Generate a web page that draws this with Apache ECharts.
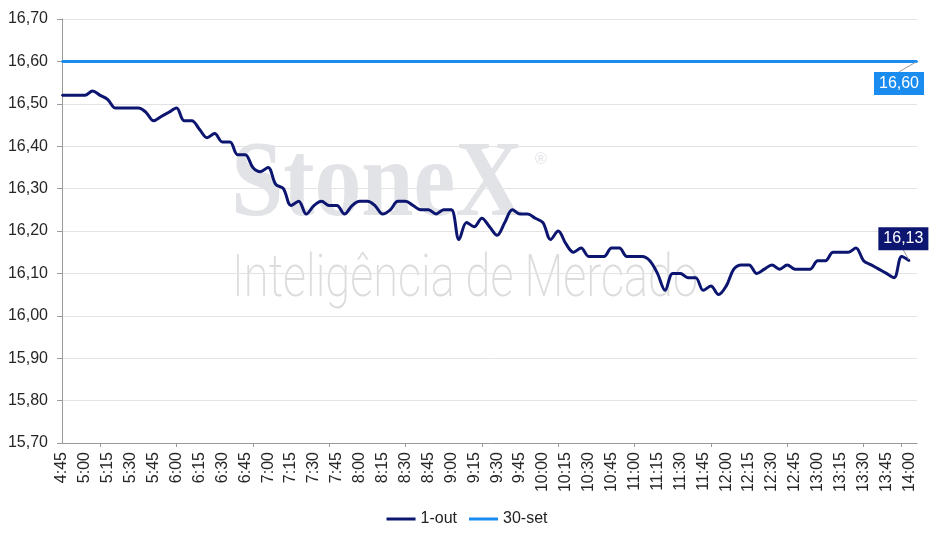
<!DOCTYPE html>
<html>
<head>
<meta charset="utf-8">
<script src="https://cdn.jsdelivr.net/npm/echarts@6/dist/echarts.min.js"></script>
<style>
html,body{margin:0;padding:0;background:#fff;}
#c{width:934px;height:539px;}
</style>
</head>
<body>
<div id="c"></div>
<script>
// ---- DATA ----
const times = [
 '4:45','4:50','4:55',
 '5:00','5:05','5:10','5:15','5:20','5:25','5:30','5:35','5:40','5:45','5:50','5:55',
 '6:00','6:05','6:10','6:15','6:20','6:25','6:30','6:35','6:40','6:45','6:50','6:55',
 '7:00','7:05','7:10','7:15','7:20','7:25','7:30','7:35','7:40','7:45','7:50','7:55',
 '8:00','8:05','8:10','8:15','8:20','8:25','8:30','8:35','8:40','8:45','8:50','8:55',
 '9:00','9:05','9:10','9:15','9:20','9:25','9:30','9:35','9:40','9:45','9:50','9:55',
 '10:00','10:05','10:10','10:15','10:20','10:25','10:30','10:35','10:40','10:45','10:50','10:55',
 '11:00','11:05','11:10','11:15','11:20','11:25','11:30','11:35','11:40','11:45','11:50','11:55',
 '12:00','12:05','12:10','12:15','12:20','12:25','12:30','12:35','12:40','12:45','12:50','12:55',
 '13:00','13:05','13:10','13:15','13:20','13:25','13:30','13:35','13:40','13:45','13:50','13:55',
 '14:00','14:05'
];
const out1 = [
 16.52,16.52,16.52,16.52,16.53,16.52,16.51,16.49,16.49,16.49,
 16.49,16.48,16.46,16.47,16.48,16.49,16.46,16.46,16.44,16.42,
 16.43,16.41,16.41,16.38,16.38,16.35,16.34,16.35,16.31,16.30,
 16.26,16.27,16.24,16.26,16.27,16.26,16.26,16.24,16.26,16.27,
 16.27,16.26,16.24,16.25,16.27,16.27,16.26,16.25,16.25,16.24,
 16.25,16.25,16.18,16.22,16.21,16.23,16.21,16.19,16.22,16.25,
 16.24,16.24,16.23,16.22,16.18,16.20,16.17,16.15,16.16,16.14,
 16.14,16.14,16.16,16.16,16.14,16.14,16.14,16.13,16.10,16.06,
 16.10,16.10,16.09,16.09,16.06,16.07,16.05,16.07,16.11,16.12,
 16.12,16.10,16.11,16.12,16.11,16.12,16.11,16.11,16.11,16.13,
 16.13,16.15,16.15,16.15,16.16,16.13,16.12,16.11,16.10,16.09,
 16.14,16.13
];
const set30Value = 16.60;
const seriesNames = ['1-out', '30-set'];
const yTicks = {min: 15.70, max: 16.70, step: 0.10};

// ---- STYLE ----
const NAVY = '#0c1670';
const BLUE = '#1a8cf0';
const FONT = '"Liberation Sans", Arial, sans-serif';
const fmt = v => Number(v).toFixed(2).replace('.', ',');

function measure(text, font) {
  const cv = document.createElement('canvas');
  const ctx = cv.getContext('2d');
  ctx.font = font;
  return ctx.measureText(text).width;
}
const wm1Font = 'bold 109px "Liberation Serif", serif';
const wm2Font = '200 60px Roboto, "Liberation Sans", sans-serif';
const wm1Scale = 292 / measure('StoneX', wm1Font);
const wm2Scale = 466 / measure('Inteligência de Mercado', wm2Font);

const out1Data = out1.map((v, i) => i === out1.length - 1 ? {
  value: v,
  label: {show: true}
} : v);

const set30Data = [
  [times[0], set30Value],
  {value: [times[times.length - 1], set30Value], label: {show: true}}
];

const labelBase = (bg) => ({
  show: false,
  position: 'inside',
  formatter: p => fmt(Array.isArray(p.value) ? p.value[1] : p.value),
  color: '#fff',
  backgroundColor: bg,
  fontFamily: FONT,
  fontSize: 16,
  padding: [3, 5, 3, 5],
  lineHeight: 17
});

const chart = echarts.init(document.getElementById('c'), null, {renderer: 'canvas'});
chart.setOption({
  animation: false,
  grid: {left: 62, right: 17, top: 19, bottom: 96, containLabel: false},
  graphic: [
    {type: 'text', z: -1, x: 231, y: 187, scaleX: wm1Scale, silent: true,
     style: {text: 'StoneX', font: wm1Font, fill: '#e2e3e6', align: 'left', verticalAlign: 'middle'}},
    {type: 'text', z: -1, x: 535, y: 160, silent: true,
     style: {text: '®', font: '16px "Liberation Sans"', fill: '#e2e3e6', align: 'left', verticalAlign: 'middle'}},
    {type: 'text', z: -1, x: 232, y: 281, scaleX: wm2Scale, silent: true,
     style: {text: 'Inteligência de Mercado', font: wm2Font, fill: '#dcdcdc', align: 'left', verticalAlign: 'middle'}}
  ],
  legend: {
    bottom: 7,
    left: 'center',
    data: seriesNames,
    icon: 'rect',
    itemWidth: 29,
    itemHeight: 3,
    itemGap: 12,
    textStyle: {fontFamily: FONT, fontSize: 16, color: '#222'}
  },
  xAxis: {
    type: 'category',
    data: times,
    boundaryGap: false,
    axisLine: {lineStyle: {color: '#9a9a9a', width: 1}},
    axisTick: {
      show: true, length: 4,
      interval: (i) => i % 10 === 5 || i === 110,
      lineStyle: {color: '#9a9a9a'}
    },
    axisLabel: {
      interval: 2, rotate: 90, margin: 9,
      fontFamily: FONT, fontSize: 16, color: '#262626'
    },
    splitLine: {show: false}
  },
  yAxis: {
    type: 'value',
    min: yTicks.min, max: yTicks.max, interval: yTicks.step,
    axisLine: {show: true, lineStyle: {color: '#9a9a9a', width: 1}},
    axisTick: {show: true, length: 5, lineStyle: {color: '#9a9a9a'}},
    axisLabel: {formatter: fmt, margin: 14, fontFamily: FONT, fontSize: 16, color: '#262626'},
    splitLine: {lineStyle: {color: '#e3e3e3', width: 1}}
  },
  series: [
    {
      name: seriesNames[0],
      type: 'line',
      data: out1Data,
      smooth: 0.35,
      showSymbol: true,
      showAllSymbol: true,
      symbol: 'circle',
      symbolSize: 2,
      itemStyle: {color: NAVY},
      lineStyle: {color: NAVY, width: 3},
      label: labelBase(NAVY),
      labelLine: {show: true, lineStyle: {color: '#999', width: 1}},
      labelLayout: {dx: -6, dy: -22},
      z: 3
    },
    {
      name: seriesNames[1],
      type: 'line',
      data: set30Data,
      showSymbol: true,
      symbol: 'circle',
      symbolSize: 2,
      itemStyle: {color: BLUE},
      lineStyle: {color: BLUE, width: 3},
      label: labelBase(BLUE),
      labelLine: {show: true, lineStyle: {color: '#999', width: 1}},
      labelLayout: {dx: -18, dy: 22},
      z: 2
    }
  ]
});
</script>
</body>
</html>
